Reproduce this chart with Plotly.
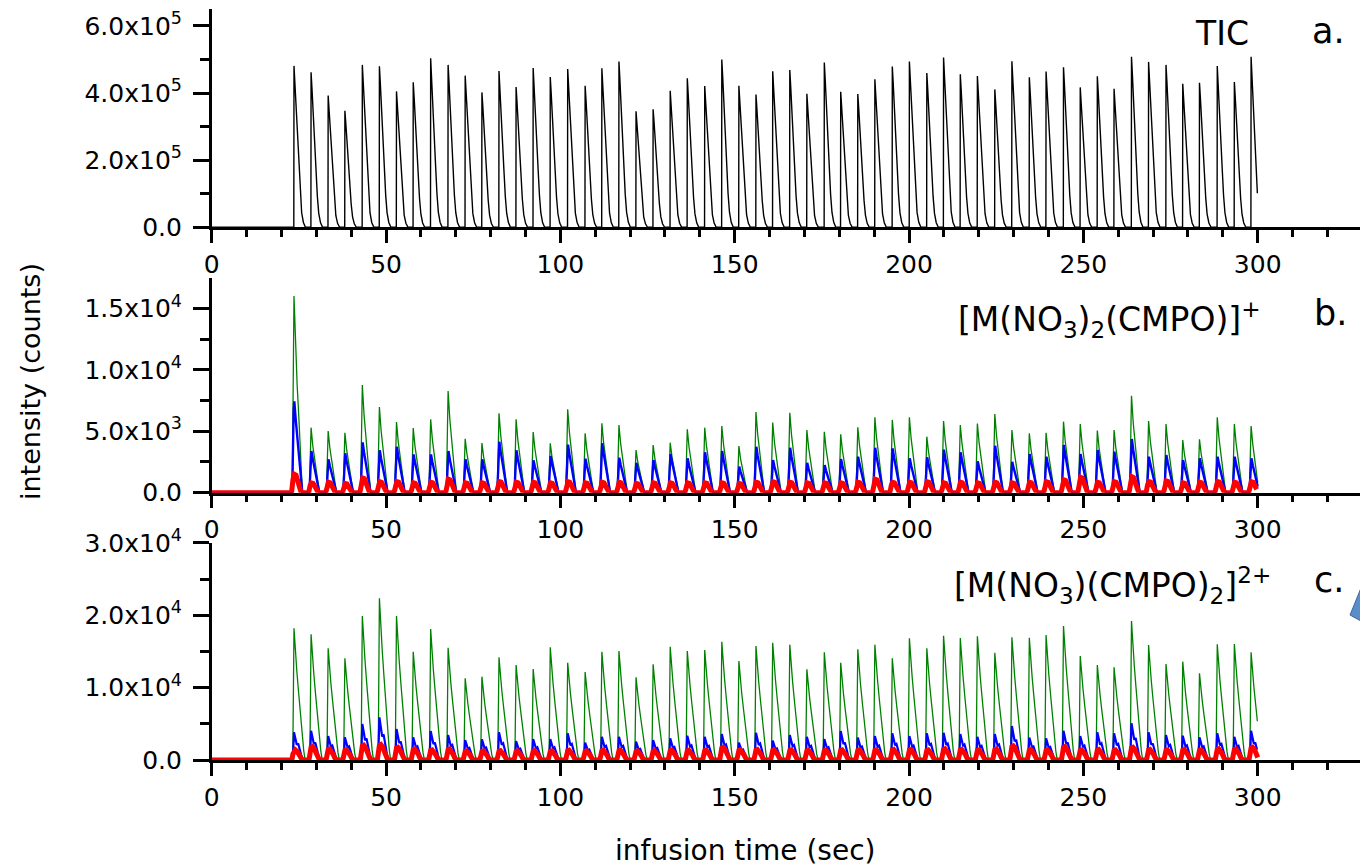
import plotly.graph_objects as go

# ---------------- data ----------------
peak_times = [23.6, 28.5, 33.4, 38.2, 43.2, 48.1, 53.0, 57.8, 62.8, 67.8,
              72.7, 77.5, 82.4, 87.3, 92.2, 97.1, 102.1, 107.1, 111.9, 116.8,
              121.7, 126.6, 131.5, 136.4, 141.4, 146.3, 151.2, 156.1, 160.9, 165.8,
              170.7, 175.7, 180.4, 185.3, 190.2, 195.2, 200.1, 205.1, 209.9, 214.7,
              219.6, 224.6, 229.5, 234.5, 239.3, 244.3, 249.1, 254.0, 258.8, 263.8,
              268.7, 273.7, 278.5, 283.3, 288.4, 293.3, 298.1]

# panel a: TIC peak apex (x1e5 counts)
tic_peaks = [4.81, 4.62, 3.93, 3.47, 4.84, 4.80, 4.05, 4.32, 5.04, 4.84,
             4.52, 4.02, 4.66, 4.18, 4.75, 4.48, 4.72, 4.22, 4.74, 4.94,
             3.46, 3.52, 4.07, 4.44, 4.21, 5.00, 4.22, 3.96, 4.65, 4.69,
             3.98, 4.91, 4.04, 3.97, 4.41, 4.79, 4.94, 4.60, 5.06, 4.56,
             4.51, 4.11, 4.95, 4.47, 4.64, 4.77, 4.17, 4.50, 4.13, 5.08,
             4.93, 4.84, 4.28, 4.31, 4.81, 4.33, 5.08]

# panel b: [M(NO3)2(CMPO)]+ apex values (x1e3 counts)
green_b = [16.0, 5.29, 5.02, 4.88, 8.76, 6.97, 5.75, 5.26, 5.97, 8.27,
           4.39, 4.04, 6.46, 5.97, 4.94, 4.02, 6.79, 4.83, 5.65, 5.51,
           3.47, 3.88, 4.07, 5.16, 5.29, 5.43, 3.80, 6.57, 5.70, 6.51,
           5.10, 4.96, 4.75, 5.32, 6.13, 5.92, 6.13, 4.56, 5.83, 5.51,
           5.62, 6.40, 5.10, 4.83, 4.88, 5.78, 5.59, 5.05, 5.10, 7.89,
           5.83, 5.59, 4.29, 4.34, 6.13, 5.59, 5.43]
blue_b = [7.44, 3.39, 2.72, 3.21, 4.10, 3.45, 3.74, 3.12, 3.12, 3.39,
          2.72, 2.72, 4.15, 3.45, 2.64, 2.99, 3.91, 2.77, 4.02, 2.85,
          2.44, 2.66, 3.15, 2.80, 3.29, 3.39, 2.12, 3.74, 2.66, 3.66,
          2.44, 2.25, 2.74, 2.93, 3.66, 3.61, 2.80, 2.88, 3.50, 3.29,
          2.55, 3.82, 2.52, 3.15, 2.93, 3.88, 3.15, 3.47, 3.34, 4.37,
          2.93, 3.07, 2.66, 2.80, 2.93, 2.93, 2.80]
red_b = [1.50, 0.80, 0.85, 0.75, 1.20, 0.90, 0.90, 0.80, 0.85, 1.10,
         0.80, 0.80, 0.90, 0.85, 0.85, 0.80, 0.90, 0.80, 0.85, 0.85,
         0.75, 0.80, 0.80, 0.80, 0.80, 0.80, 0.75, 0.85, 0.90, 0.85,
         0.80, 0.80, 0.80, 0.85, 1.10, 0.85, 0.85, 0.90, 0.80, 0.85,
         0.80, 0.85, 0.80, 0.85, 0.90, 1.05, 1.25, 0.85, 0.90, 1.30,
         0.90, 0.95, 0.80, 0.85, 0.90, 0.85, 0.90]

# panel c: [M(NO3)(CMPO)2]2+ apex values (x1e3 counts)
green_c = [18.19, 17.36, 15.43, 14.05, 19.89, 22.33, 19.89, 14.96, 18.09, 15.51,
           11.28, 11.51, 14.18, 13.12, 12.57, 15.56, 13.44, 12.15, 14.96, 15.06,
           11.42, 13.21, 15.65, 15.06, 15.19, 16.34, 13.67, 15.75, 16.20, 15.93,
           12.52, 14.87, 13.44, 15.29, 15.93, 14.05, 16.80, 15.43, 17.17, 16.85,
           17.08, 14.82, 16.94, 16.89, 17.27, 18.51, 14.36, 13.12, 12.80, 19.20,
           15.88, 13.26, 13.58, 11.97, 15.97, 16.02, 14.87]
blue_c = [3.82, 4.05, 3.31, 3.13, 4.97, 5.89, 4.28, 3.13, 4.00, 3.45,
          2.76, 2.85, 3.82, 2.62, 2.90, 2.90, 3.68, 2.39, 3.22, 3.22,
          2.53, 2.76, 3.00, 3.36, 3.22, 3.59, 2.39, 3.77, 2.67, 3.45,
          3.22, 2.90, 4.00, 3.10, 3.30, 3.68, 3.30, 3.68, 3.77, 3.59,
          3.22, 3.59, 4.70, 3.10, 3.00, 4.05, 3.30, 3.82, 3.68, 5.07,
          3.82, 3.45, 3.36, 3.13, 3.68, 3.22, 4.05]
red_c = [1.40, 1.85, 1.50, 1.40, 2.05, 2.15, 1.75, 1.50, 1.40, 1.50,
         1.25, 1.25, 1.30, 1.25, 1.30, 1.25, 1.35, 1.25, 1.35, 1.35,
         1.25, 1.30, 1.35, 1.35, 1.35, 1.75, 1.40, 1.45, 1.40, 1.40,
         1.35, 1.35, 1.40, 1.40, 1.40, 1.45, 1.45, 1.40, 1.55, 1.45,
         1.40, 1.50, 1.95, 1.45, 1.40, 1.85, 1.40, 1.45, 1.40, 1.75,
         1.45, 1.40, 1.45, 1.40, 1.55, 1.50, 1.75]

# relative peak shapes: (time offset from apex [s], fraction of apex)
tic_shape = [(-0.05, 0.0), (0.0, 1.0), (0.25, 0.9), (0.8, 0.64), (1.4, 0.37),
             (1.8, 0.2), (2.2, 0.09), (2.7, 0.03), (3.3, 0.0)]
green_b_shape = [(-0.5, 0.0), (0.0, 1.0), (0.5, 0.72), (0.9, 0.55), (1.4, 0.38), (1.9, 0.15), (2.4, 0.0)]
blue_b_shape = [(-0.5, 0.0), (-0.1, 0.9), (0.1, 1.0), (0.5, 0.8), (0.9, 0.62), (1.4, 0.45), (1.9, 0.18), (2.4, 0.0)]
red_b_shape = [(-0.7, 0.0), (-0.3, 0.7), (0.1, 1.0), (0.6, 0.95), (1.1, 0.7), (1.6, 0.3), (2.1, 0.0)]
green_c_shape = [(-0.35, 0.0), (0.0, 1.0), (0.3, 0.85), (0.8, 0.68), (1.3, 0.52), (1.8, 0.36),
                 (2.3, 0.2), (2.8, 0.07), (3.2, 0.0)]
blue_c_shape = [(-0.35, 0.0), (0.0, 1.0), (0.4, 0.72), (0.8, 0.55), (1.2, 0.6), (1.7, 0.35), (2.2, 0.12), (2.7, 0.0)]
red_c_shape = [(-0.6, 0.0), (-0.3, 0.6), (0.0, 0.95), (0.4, 1.0), (0.9, 0.85), (1.4, 0.55), (1.9, 0.2), (2.4, 0.0)]

t_end = 300.0

# ---------------- build series ----------------
def build(apex, shape, scale):
    xs, ys = [0.0], [0.0]
    for t0, h in zip(peak_times, apex):
        for off, frac in shape:
            t = t0 + off
            if t <= t_end:
                xs.append(t)
                ys.append(h * frac * scale)
    return xs, ys

W, H = 1360, 867
def px(x):
    return x / W
def py(y):
    return 1 - y / H

fig = go.Figure()

x, y = build(tic_peaks, tic_shape, 1e5)
fig.add_trace(go.Scatter(x=x, y=y, mode="lines", line=dict(color="black", width=1.4),
                         xaxis="x", yaxis="y", showlegend=False))
for apex, shape, col, w in [(green_b, green_b_shape, "#008000", 1.3),
                            (blue_b, blue_b_shape, "#0000FF", 2.4),
                            (red_b, red_b_shape, "#FF0000", 5.0)]:
    x, y = build(apex, shape, 1e3)
    fig.add_trace(go.Scatter(x=x, y=y, mode="lines", line=dict(color=col, width=w),
                             xaxis="x2", yaxis="y2", showlegend=False))
for apex, shape, col, w in [(green_c, green_c_shape, "#008000", 1.3),
                            (blue_c, blue_c_shape, "#0000FF", 2.2),
                            (red_c, red_c_shape, "#FF0000", 5.0)]:
    x, y = build(apex, shape, 1e3)
    fig.add_trace(go.Scatter(x=x, y=y, mode="lines", line=dict(color=col, width=w),
                             xaxis="x3", yaxis="y3", showlegend=False))

FONT = "DejaVu Sans"
tickfont = dict(family=FONT, size=25, color="black")

x_left = 211.7
x_max = (W - x_left) / 3.4867
xticks = [0, 50, 100, 150, 200, 250, 300]

def xaxis(anchor):
    return dict(domain=[px(x_left), 1.0], range=[0, x_max], anchor=anchor,
                showline=True, linecolor="black", linewidth=2.5,
                ticks="outside", ticklen=13, tickwidth=2.5, tickcolor="black",
                tickvals=xticks, ticktext=[str(v) for v in xticks],
                tickfont=tickfont, ticklabelstandoff=0, automargin=False,
                minor=dict(dtick=10, tick0=0, ticks="outside", ticklen=7, tickwidth=2.5, tickcolor="black"),
                showgrid=False, zeroline=False)

def yaxis(anchor, dom, rng, vals, texts, minors):
    return dict(domain=dom, range=rng, anchor=anchor,
                showline=True, linecolor="black", linewidth=2.5,
                ticks="outside", ticklen=16, tickwidth=2.5, tickcolor="black",
                tickvals=vals, ticktext=texts, tickfont=tickfont, ticklabelstandoff=6,
                automargin=False,
                minor=dict(tickvals=minors, ticks="outside", ticklen=9, tickwidth=2.5, tickcolor="black"),
                showgrid=False, zeroline=False)

ya = yaxis("x", [py(227.3), py(9.2)], [0, 6.5e5], [0, 2e5, 4e5, 6e5],
           ["0.0", "2.0x10<sup>5</sup>", "4.0x10<sup>5</sup>", "6.0x10<sup>5</sup>"], [1e5, 3e5, 5e5])
yb = yaxis("x2", [py(492.7), py(277.6)], [0, 1.75e4], [0, 5e3, 1e4, 1.5e4],
           ["0.0", "5.0x10<sup>3</sup>", "1.0x10<sup>4</sup>", "1.5x10<sup>4</sup>"], [2.5e3, 7.5e3, 1.25e4])
yc = yaxis("x3", [py(760.0), py(542.8)], [0, 3e4], [0, 1e4, 2e4, 3e4],
           ["0.0", "1.0x10<sup>4</sup>", "2.0x10<sup>4</sup>", "3.0x10<sup>4</sup>"], [5e3, 1.5e4, 2.5e4])

def ann(text, x, y, size, xanchor="center"):
    return dict(text=text, x=px(x), y=py(y), xref="paper", yref="paper",
                xanchor=xanchor, yanchor="middle", showarrow=False,
                font=dict(family=FONT, size=size, color="black"))

annotations = [
    ann("TIC", 1222, 33, 33),
    ann("a.", 1328, 31, 35),
    ann("[M(NO<sub>3</sub>)<sub>2</sub>(CMPO)]<sup>+</sup>", 1263, 320, 33, xanchor="right"),
    ann("b.", 1330, 313, 35),
    ann("[M(NO<sub>3</sub>)(CMPO)<sub>2</sub>]<sup>2+</sup>", 1273, 585, 33, xanchor="right"),
    ann("c.", 1329, 580, 35),
    ann("infusion time (sec)", 745, 850, 28),
    dict(text="intensity (counts)", x=px(30), y=py(382), xref="paper", yref="paper",
         xanchor="center", yanchor="middle", textangle=-90, showarrow=False,
         font=dict(family=FONT, size=27, color="black")),
]

arrow_path = "M {} {} L {} {} L {} {} Z".format(px(1350), py(615), px(1361), py(588), px(1361), py(621))

fig.update_layout(
    width=W, height=H,
    margin=dict(l=0, r=0, t=0, b=0, pad=0, autoexpand=False),
    paper_bgcolor="white", plot_bgcolor="white",
    xaxis=xaxis("y"), xaxis2=xaxis("y2"), xaxis3=xaxis("y3"),
    yaxis=ya, yaxis2=yb, yaxis3=yc,
    annotations=annotations,
    shapes=[dict(type="path", path=arrow_path, xref="paper", yref="paper",
                 fillcolor="#5B8DCB", line=dict(color="#3F6699", width=1))],
)

fig.write_html("out.html", config={"displayModeBar": False},
               post_script="document.body.style.margin='0';document.body.style.overflow='hidden';")
